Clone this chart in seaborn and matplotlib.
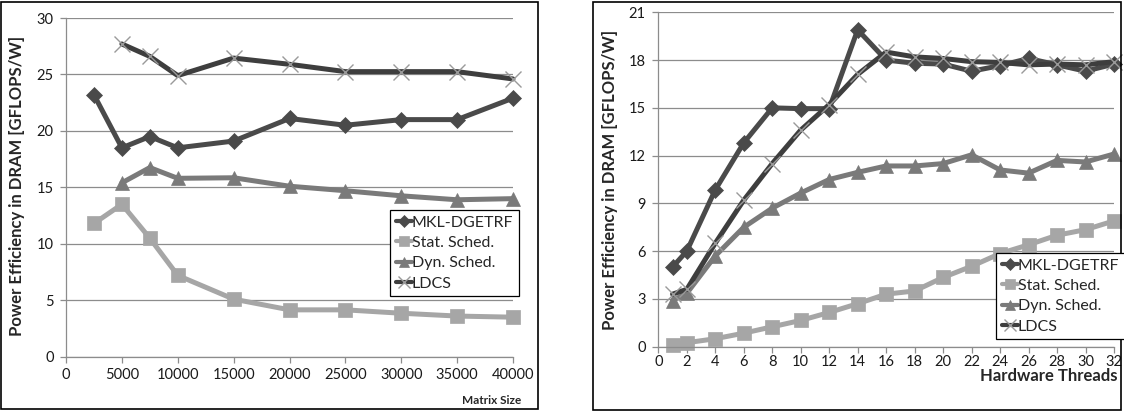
import matplotlib
matplotlib.use("Agg")
import matplotlib.pyplot as plt
from matplotlib.patches import Rectangle
from matplotlib.lines import Line2D
import seaborn as sns
import pandas as pd

# ---- data: power efficiency vs. matrix size ----
size_mkl = [2500, 5000, 7500, 10000, 15000, 20000, 25000, 30000, 35000, 40000]
mkl_size = [23.2, 18.5, 19.5, 18.5, 19.1, 21.1, 20.5, 21.0, 21.0, 22.9]
size_stat = [2500, 5000, 7500, 10000, 15000, 20000, 25000, 30000, 35000, 40000]
stat_size = [11.8, 13.5, 10.5, 7.2, 5.1, 4.15, 4.15, 3.85, 3.6, 3.5]
size_dyn = [5000, 7500, 10000, 15000, 20000, 25000, 30000, 35000, 40000]
dyn_size = [15.4, 16.75, 15.8, 15.85, 15.1, 14.7, 14.25, 13.9, 14.0]
size_ldcs = [5000, 7500, 10000, 15000, 20000, 25000, 30000, 35000, 40000]
ldcs_size = [27.7, 26.6, 24.9, 26.45, 25.9, 25.25, 25.25, 25.25, 24.6]

# ---- data: power efficiency vs. hardware threads ----
threads = [1, 2, 4, 6, 8, 10, 12, 14, 16, 18, 20, 22, 24, 26, 28, 30, 32]
mkl_thr = [5.0, 6.0, 9.85, 12.8, 15.0, 14.95, 14.95, 19.9, 18.0, 17.8,
           17.75, 17.3, 17.65, 18.1, 17.7, 17.3, 17.75]
stat_thr = [0.1, 0.25, 0.5, 0.85, 1.25, 1.65, 2.15, 2.7, 3.3, 3.5,
            4.35, 5.05, 5.85, 6.4, 7.0, 7.35, 7.9]
dyn_thr = [2.9, 3.35, 5.7, 7.5, 8.7, 9.65, 10.5, 10.95, 11.35, 11.35,
           11.5, 12.05, 11.1, 10.9, 11.7, 11.6, 12.1]
ldcs_thr = [3.3, 3.6, 6.5, 9.2, 11.5, 13.6, 15.2, 17.1, 18.5, 18.2,
            18.1, 17.9, 17.85, 17.7, 17.75, 17.7, 17.9]

series_names = ["MKL-DGETRF", "Stat. Sched.", "Dyn. Sched.", "LDCS"]

sns.set_theme(style="white")
plt.rcParams["font.family"] = ["Lato", "DejaVu Sans"]

colors = {"MKL-DGETRF": "#4a4a4a", "Stat. Sched.": "#a6a6a6",
          "Dyn. Sched.": "#7a7a7a", "LDCS": "#3e3e3e"}
markers = {"MKL-DGETRF": "D", "Stat. Sched.": "s", "Dyn. Sched.": "^", "LDCS": "x"}
msizes = {"MKL-DGETRF": 8.5, "Stat. Sched.": 9.5, "Dyn. Sched.": 10, "LDCS": 11}

fig = plt.figure(figsize=(11.24, 4.11), dpi=100)
W, H = 1124, 411


def ax_at(x0, y0, x1, y1):
    return fig.add_axes([x0 / W, 1 - y1 / H, (x1 - x0) / W, (y1 - y0) / H])


def draw_series(ax, name, xs, ys):
    df = pd.DataFrame({"x": xs, "y": ys})
    m = markers[name]
    kw = dict(marker=m, markersize=msizes[name], linewidth=3.6,
              color=colors[name], clip_on=False)
    if m == "x":
        kw.update(markeredgecolor="#9a9a9a", markeredgewidth=1.0)
    else:
        kw.update(markeredgecolor=colors[name], markeredgewidth=0.5)
    sns.lineplot(data=df, x="x", y="y", ax=ax, **kw)


def style_axes(ax, xpad):
    for s in ["top", "right"]:
        ax.spines[s].set_visible(False)
    for s in ["left", "bottom"]:
        ax.spines[s].set_color("#8c8c8c")
        ax.spines[s].set_linewidth(0.9)
    ax.yaxis.grid(True, color="#8c8c8c", linewidth=0.9)
    ax.xaxis.grid(False)
    ax.set_axisbelow(True)
    ax.tick_params(axis="both", which="major", length=4, width=0.9,
                   color="#8c8c8c", labelsize=10.5, labelcolor="#1a1a1a",
                   direction="out", left=True, bottom=True)
    ax.tick_params(axis="y", pad=5)
    ax.tick_params(axis="x", pad=xpad)
    ax.set_xlabel("")
    ax.set_ylabel("")


def add_legend(x0, y0):
    handles = []
    for n in series_names:
        h = Line2D([], [], color=colors[n], marker=markers[n], linewidth=3.0,
                   markersize=msizes[n] * 0.75,
                   markeredgecolor="#9a9a9a" if markers[n] == "x" else colors[n],
                   markeredgewidth=1.0 if markers[n] == "x" else 0.5)
        handles.append(h)
    leg = fig.legend(handles, series_names, loc="upper left",
                     bbox_to_anchor=(x0 / W, 1 - y0 / H),
                     frameon=True, fancybox=False, framealpha=1,
                     edgecolor="black", handlelength=1.0, handletextpad=0.0,
                     borderpad=0.35, labelspacing=0.38, fontsize=11.5,
                     borderaxespad=0)
    leg.get_frame().set_linewidth(0.9)


# ---- left panel: matrix size ----
ax1 = ax_at(66, 18, 513, 356.7)
for name, xs, ys in zip(series_names,
                        [size_mkl, size_stat, size_dyn, size_ldcs],
                        [mkl_size, stat_size, dyn_size, ldcs_size]):
    draw_series(ax1, name, xs, ys)
ax1.set_xlim(0, 40000)
ax1.set_ylim(0, 30)
ax1.set_xticks(range(0, 40001, 5000))
ax1.set_yticks(range(0, 31, 5))
style_axes(ax1, 4)
add_legend(390, 210)
fig.text(17 / W, 1 - 186 / H, "Power Efficiency in DRAM [GFLOPS/W]",
         rotation=90, ha="center", va="center", fontsize=12, fontweight="bold")
fig.text(521 / W, 1 - 400 / H, "Matrix Size", ha="right", va="center",
         fontsize=8.5, fontweight="bold")

# ---- right panel: hardware threads ----
ax2 = ax_at(658.3, 12.3, 1114, 346.7)
for name, ys in zip(series_names, [mkl_thr, stat_thr, dyn_thr, ldcs_thr]):
    draw_series(ax2, name, threads, ys)
ax2.set_xlim(0, 32)
ax2.set_ylim(0, 21)
ax2.set_xticks(range(0, 33, 2))
ax2.set_yticks(range(0, 22, 3))
style_axes(ax2, 2)
add_legend(996, 253)
fig.text(610 / W, 1 - 180 / H, "Power Efficiency in DRAM [GFLOPS/W]",
         rotation=90, ha="center", va="center", fontsize=12, fontweight="bold")
fig.text(1118 / W, 1 - 376 / H, "Hardware Threads", ha="right", va="center",
         fontsize=12, fontweight="bold")

# panel frames
for (x0, y0, x1, y1) in [(1, 2, 538, 409), (593, 2, 1121, 410)]:
    fig.patches.append(Rectangle((x0 / W, 1 - y1 / H), (x1 - x0) / W, (y1 - y0) / H,
                                 transform=fig.transFigure, fill=False,
                                 edgecolor="black", linewidth=1.2))

fig.savefig("out.png", dpi=100)
